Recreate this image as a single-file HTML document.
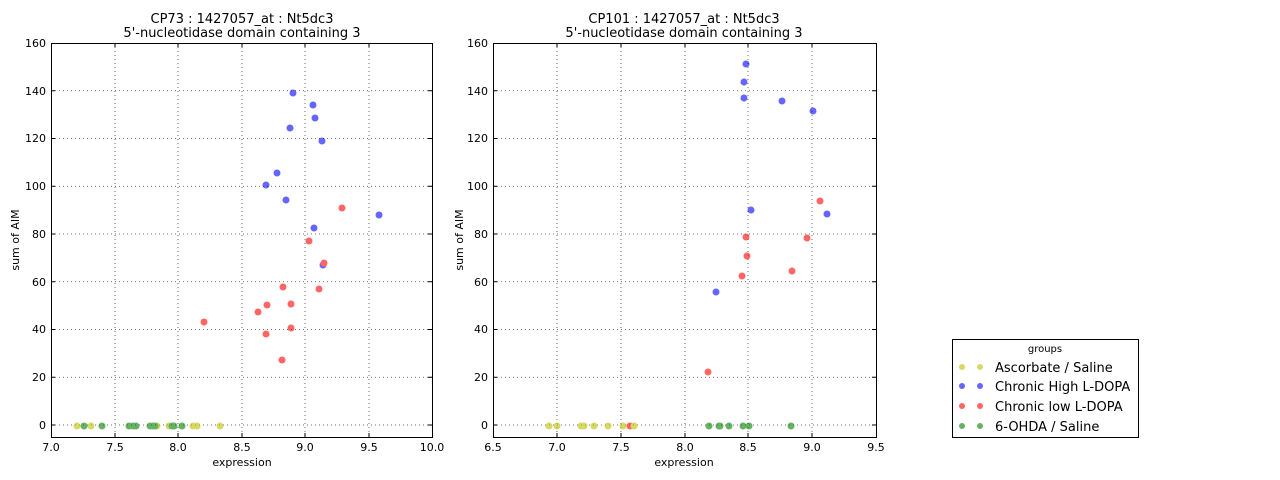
<!DOCTYPE html><html><head><meta charset="utf-8"><style>body{margin:0;background:#fff}svg{display:block;font-family:"DejaVu Sans","Liberation Sans",sans-serif}</style></head><body>
<svg width="1280" height="480" xmlns="http://www.w3.org/2000/svg">
<g font-size="13" fill="#000" text-anchor="middle">
<text x="242" y="23">CP73 : 1427057_at : Nt5dc3</text>
<text x="242" y="37">5'-nucleotidase domain containing 3</text>
<text x="684" y="23">CP101 : 1427057_at : Nt5dc3</text>
<text x="684" y="37">5'-nucleotidase domain containing 3</text>
</g>
<g stroke="#444" stroke-width="0.8" stroke-dasharray="1,3">
<line x1="115" y1="43" x2="115" y2="437"/><line x1="178" y1="43" x2="178" y2="437"/><line x1="242" y1="43" x2="242" y2="437"/><line x1="305" y1="43" x2="305" y2="437"/><line x1="369" y1="43" x2="369" y2="437"/>
<line x1="557" y1="43" x2="557" y2="437"/><line x1="621" y1="43" x2="621" y2="437"/><line x1="685" y1="43" x2="685" y2="437"/><line x1="748" y1="43" x2="748" y2="437"/><line x1="812" y1="43" x2="812" y2="437"/>
<g id="hg">
<line x1="51" y1="425" x2="432" y2="425"/><line x1="51" y1="377.25" x2="432" y2="377.25"/><line x1="51" y1="329.5" x2="432" y2="329.5"/><line x1="51" y1="281.75" x2="432" y2="281.75"/><line x1="51" y1="234" x2="432" y2="234"/><line x1="51" y1="186.25" x2="432" y2="186.25"/><line x1="51" y1="138.5" x2="432" y2="138.5"/><line x1="51" y1="90.75" x2="432" y2="90.75"/>
</g>
<use href="#hg" transform="translate(442,0)"/>
</g>
<g stroke="#000" stroke-width="1">
<path d="M115 437v-4M178 437v-4M242 437v-4M305 437v-4M369 437v-4M115 43v4M178 43v4M242 43v4M305 43v4M369 43v4"/>
<path d="M557 437v-4M621 437v-4M685 437v-4M748 437v-4M812 437v-4M557 43v4M621 43v4M685 43v4M748 43v4M812 43v4"/>
<path d="M51 425h4M51 377.25h4M51 329.5h4M51 281.75h4M51 234h4M51 186.25h4M51 138.5h4M51 90.75h4M432 425h-4M432 377.25h-4M432 329.5h-4M432 281.75h-4M432 234h-4M432 186.25h-4M432 138.5h-4M432 90.75h-4"/>
<path d="M493 425h4M493 377.25h4M493 329.5h4M493 281.75h4M493 234h4M493 186.25h4M493 138.5h4M493 90.75h4M876 425h-4M876 377.25h-4M876 329.5h-4M876 281.75h-4M876 234h-4M876 186.25h-4M876 138.5h-4M876 90.75h-4"/>
</g>
<rect x="51.5" y="43.5" width="381" height="394" fill="none" stroke="#000"/>
<rect x="493.5" y="43.5" width="383" height="394" fill="none" stroke="#000"/>
<g font-size="11" text-anchor="end">
<text x="46" y="429">0</text><text x="46" y="381">20</text><text x="46" y="333">40</text><text x="46" y="286">60</text><text x="46" y="238">80</text><text x="46" y="190">100</text><text x="46" y="142">120</text><text x="46" y="95">140</text><text x="46" y="47">160</text>
<text x="488" y="429">0</text><text x="488" y="381">20</text><text x="488" y="333">40</text><text x="488" y="286">60</text><text x="488" y="238">80</text><text x="488" y="190">100</text><text x="488" y="142">120</text><text x="488" y="95">140</text><text x="488" y="47">160</text>
</g>
<g font-size="11" text-anchor="middle">
<text x="51" y="451">7.0</text><text x="115" y="451">7.5</text><text x="178" y="451">8.0</text><text x="242" y="451">8.5</text><text x="305" y="451">9.0</text><text x="369" y="451">9.5</text><text x="432" y="451">10.0</text>
<text x="493" y="451">6.5</text><text x="557" y="451">7.0</text><text x="621" y="451">7.5</text><text x="685" y="451">8.0</text><text x="748" y="451">8.5</text><text x="812" y="451">9.0</text><text x="876" y="451">9.5</text>
<text x="242" y="466">expression</text><text x="684" y="466">expression</text>
<text transform="translate(19,240) rotate(-90)">sum of AIM</text>
<text transform="translate(463,240) rotate(-90)">sum of AIM</text>
</g>
<g opacity="0.6">
<g fill="#0000ff">
<circle cx="293" cy="93" r="3.5"/><circle cx="313" cy="105" r="3.5"/><circle cx="315" cy="118" r="3.5"/><circle cx="290" cy="128" r="3.5"/><circle cx="322" cy="141" r="3.5"/><circle cx="277" cy="173" r="3.5"/><circle cx="266" cy="185" r="3.5"/><circle cx="286" cy="200" r="3.5"/><circle cx="379" cy="215" r="3.5"/><circle cx="314" cy="228" r="3.5"/><circle cx="323" cy="265" r="3.5"/>
<circle cx="746" cy="64" r="3.5"/><circle cx="744" cy="82" r="3.5"/><circle cx="744" cy="98" r="3.5"/><circle cx="782" cy="101" r="3.5"/><circle cx="813" cy="111" r="3.5"/><circle cx="751" cy="210" r="3.5"/><circle cx="827" cy="214" r="3.5"/><circle cx="716" cy="292" r="3.5"/>
</g>
<g fill="#ff0000">
<circle cx="342" cy="208" r="3.5"/><circle cx="309" cy="241" r="3.5"/><circle cx="324" cy="263" r="3.5"/><circle cx="319" cy="289" r="3.5"/><circle cx="283" cy="287" r="3.5"/><circle cx="267" cy="305" r="3.5"/><circle cx="258" cy="312" r="3.5"/><circle cx="291" cy="304" r="3.5"/><circle cx="204" cy="322" r="3.5"/><circle cx="266" cy="334" r="3.5"/><circle cx="291" cy="328" r="3.5"/><circle cx="282" cy="360" r="3.5"/>
<circle cx="820" cy="201" r="3.5"/><circle cx="746" cy="237" r="3.5"/><circle cx="807" cy="238" r="3.5"/><circle cx="747" cy="256" r="3.5"/><circle cx="742" cy="276" r="3.5"/><circle cx="792" cy="271" r="3.5"/><circle cx="708" cy="372" r="3.5"/><circle cx="630" cy="426" r="3.5"/>
</g>
<g fill="#bfbf00">
<circle cx="77" cy="426" r="3.5"/><circle cx="91" cy="426" r="3.5"/><circle cx="157" cy="426" r="3.5"/><circle cx="169" cy="426" r="3.5"/><circle cx="193" cy="426" r="3.5"/><circle cx="197" cy="426" r="3.5"/><circle cx="220" cy="426" r="3.5"/>
<circle cx="549" cy="426" r="3.5"/><circle cx="557" cy="426" r="3.5"/><circle cx="581" cy="426" r="3.5"/><circle cx="584" cy="426" r="3.5"/><circle cx="594" cy="426" r="3.5"/><circle cx="608" cy="426" r="3.5"/><circle cx="623" cy="426" r="3.5"/><circle cx="634" cy="426" r="3.5"/>
</g>
<g fill="#008000">
<circle cx="84" cy="426" r="3.5"/><circle cx="102" cy="426" r="3.5"/><circle cx="129" cy="426" r="3.5"/><circle cx="133" cy="426" r="3.5"/><circle cx="136" cy="426" r="3.5"/><circle cx="150" cy="426" r="3.5"/><circle cx="153" cy="426" r="3.5"/><circle cx="155" cy="426" r="3.5"/><circle cx="172" cy="426" r="3.5"/><circle cx="174" cy="426" r="3.5"/><circle cx="182" cy="426" r="3.5"/>
<circle cx="709" cy="426" r="3.5"/><circle cx="719" cy="426" r="3.5"/><circle cx="720" cy="426" r="3.5"/><circle cx="729" cy="426" r="3.5"/><circle cx="743" cy="426" r="3.5"/><circle cx="749" cy="426" r="3.5"/><circle cx="791" cy="426" r="3.5"/>
</g>
</g>
<rect x="952.5" y="339.5" width="186" height="98" fill="#fff" stroke="#000"/>
<text x="1045" y="352" font-size="10" text-anchor="middle">groups</text>
<g opacity="0.6">
<circle cx="962" cy="367" r="3" fill="#bfbf00"/><circle cx="980" cy="367" r="3" fill="#bfbf00"/>
<circle cx="962" cy="386" r="3" fill="#0000ff"/><circle cx="980" cy="386" r="3" fill="#0000ff"/>
<circle cx="962" cy="406" r="3" fill="#ff0000"/><circle cx="980" cy="406" r="3" fill="#ff0000"/>
<circle cx="962" cy="426" r="3" fill="#008000"/><circle cx="980" cy="426" r="3" fill="#008000"/>
</g>
<g font-size="13">
<text x="995" y="372">Ascorbate / Saline</text>
<text x="995" y="391">Chronic High L-DOPA</text>
<text x="995" y="411">Chronic low L-DOPA</text>
<text x="995" y="431">6-OHDA / Saline</text>
</g>
</svg>
</body></html>
